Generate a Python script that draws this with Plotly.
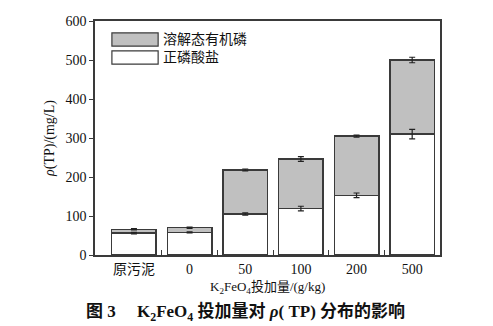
import plotly.graph_objects as go

categories = ["原污泥", "0", "50", "100", "200", "500"]
ortho = [56, 58, 105, 119, 153, 310]
ortho_err = [2, 1.5, 3, 6, 6, 12]
total = [66, 70, 218, 246, 305, 500]
total_err = [1.5, 1.5, 2.5, 6, 2.5, 7]
dop = [t - o for t, o in zip(total, ortho)]
series_names = ["溶解态有机磷", "正磷酸盐"]

xpos = list(range(len(categories)))
LINE = "#3a3a3a"
FONT = "Liberation Serif, Times New Roman, Noto Sans CJK SC, serif"

fig = go.Figure()
fig.add_trace(go.Bar(
    x=xpos, y=ortho, name=series_names[1], width=0.8,
    marker=dict(color="#ffffff", line=dict(color=LINE, width=1.5)),
))
fig.add_trace(go.Bar(
    x=xpos, y=dop, name=series_names[0], width=0.8,
    marker=dict(color="#c0c0c0", line=dict(color=LINE, width=1.5)),
))
# error bars drawn on top of the stacked bars
for yv, err in ((ortho, ortho_err), (total, total_err)):
    fig.add_trace(go.Scatter(
        x=xpos, y=yv, mode="markers", marker=dict(size=1, opacity=0), hoverinfo="skip",
        error_y=dict(type="data", array=err, color="#222", thickness=1.2, width=3),
    ))

# legend drawn as swatches + text (styling)
legend_items = [(series_names[0], "#c0c0c0", 0.949, 0.893), (series_names[1], "#ffffff", 0.872, 0.816)]
for name, col, y1, y0 in legend_items:
    fig.add_shape(type="rect", xref="paper", yref="paper", x0=0.049, x1=0.183, y0=y0, y1=y1,
                  fillcolor=col, line=dict(color=LINE, width=1.2))
    fig.add_annotation(xref="paper", yref="paper", x=0.19, y=(y0 + y1) / 2, text=name,
                       showarrow=False, xanchor="left", yanchor="middle",
                       font=dict(size=14, color="#111", family=FONT))

fig.add_annotation(xref="paper", yref="paper", x=0.5, y=-0.14,
                   text="K<sub>2</sub>FeO<sub>4</sub>投加量/(g/kg)", showarrow=False,
                   xanchor="center", yanchor="middle", font=dict(size=13, color="#111", family=FONT))
fig.add_annotation(xref="paper", yref="paper", x=0.435, y=-0.245,
                   text="<b>图 3　 K<sub>2</sub>FeO<sub>4</sub> 投加量对 <i>ρ</i>( TP) 分布的影响</b>",
                   showarrow=False, xanchor="center", yanchor="middle",
                   font=dict(size=17, color="#111", family="Liberation Serif, Noto Sans CJK SC, serif"))

fig.update_layout(
    width=493, height=326, barmode="stack", showlegend=False,
    margin=dict(l=95, r=53, t=21, b=71),
    paper_bgcolor="white", plot_bgcolor="white",
    font=dict(family=FONT, size=14, color="#111"),
)
fig.update_xaxes(
    range=[-0.7, 5.5], tickmode="array", tickvals=xpos, ticktext=categories, ticks="",
    showline=True, linecolor=LINE, linewidth=1.5, mirror=True, showgrid=False, zeroline=False,
    minor=dict(tickmode="array", tickvals=[0.5, 1.5, 2.5, 3.5, 4.5], ticks="inside", ticklen=5,
               tickcolor=LINE, tickwidth=1.2, showgrid=False),
    tickfont=dict(size=14),
)
fig.update_yaxes(
    range=[0, 600], dtick=100, ticks="outside", ticklen=4, tickcolor=LINE, tickwidth=1.2,
    showline=True, linecolor=LINE, linewidth=1.5, mirror=True, showgrid=False, zeroline=False,
    title=dict(text="<i>ρ</i>(TP)/(mg/L)", standoff=8, font=dict(size=14)),
    tickfont=dict(size=14),
)
fig.write_html("out.html")
